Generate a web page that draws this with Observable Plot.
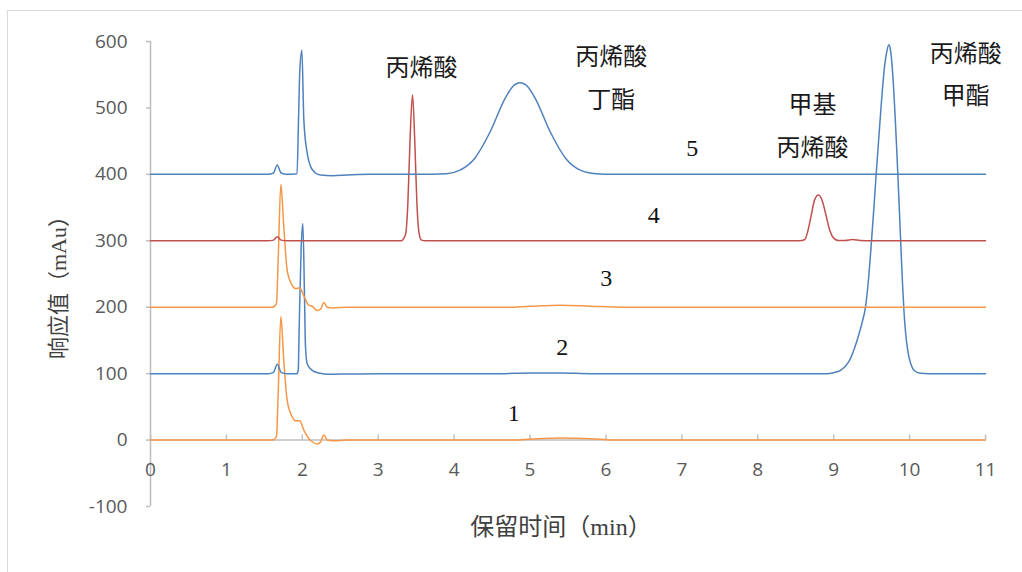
<!DOCTYPE html>
<html>
<head>
<meta charset="utf-8">
<script src="https://cdn.jsdelivr.net/npm/d3@7"></script>
<script src="https://cdn.jsdelivr.net/npm/@observablehq/plot@0.6"></script>
<style>
  html, body { margin: 0; padding: 0; background: #fff; overflow: hidden; }
  #frame { position: absolute; left: 7px; top: 10px; width: 1100px; height: 700px;
           border: 1px solid #d9d9d9; box-sizing: border-box; }
  #chart { position: absolute; left: 0; top: 0; }
</style>
</head>
<body>
<div id="frame"></div>
<div id="chart"></div>
<script>
// Axis ticks
const xTicks = [0, 1, 2, 3, 4, 5, 6, 7, 8, 9, 10, 11];
const yTicks = [-100, 0, 100, 200, 300, 400, 500, 600];
const xTitle = "保留时间（min）";
const yTitle = "响应值（mAu）";

// Chromatograms: [retention time (min), response (mAu)], each stacked 100 mAu apart
const trace1 = [[0,0],[1.60,0],[1.64,2],[1.66,6],[1.682,70],[1.717,186],[1.756,120],[1.80,60],
  [1.867,35],[1.91,29],[1.967,29],[2.02,15],[2.085,2.5],[2.13,-2.5],[2.196,-6],[2.24,-3],
  [2.283,7.5],[2.33,0],[2.40,-1],[2.60,0],[4.80,0],[5.10,2],[5.40,3],[5.80,2],[6.10,0],[11,0]];

const trace2 = [[0,100],[1.55,100],[1.62,102],[1.67,114],[1.72,102],[1.80,100],[1.93,100],
  [1.946,105],[1.959,171],[1.985,290],[2.007,326],[2.028,221],[2.042,140],[2.064,115],
  [2.13,105],[2.22,101],[2.35,99],[2.60,99.5],[3.00,100],[4.60,100],[5.00,101],[5.40,101],
  [5.80,100],[8.90,100],[9.00,101.5],[9.091,105],[9.20,118],[9.311,151],[9.37,175],[9.42,201],
  [9.465,250],[9.499,301],[9.53,350],[9.561,402],[9.59,448],[9.618,492],[9.645,532],
  [9.671,563],[9.70,585],[9.727,595],[9.747,588],[9.767,567],[9.787,535],[9.807,493],
  [9.827,446],[9.847,395],[9.867,342],[9.887,287],[9.907,235],[9.927,192],[9.947,162],
  [9.977,134],[10.017,114],[10.067,104],[10.147,100.5],[10.25,100],[11,100]];

const trace3 = [[0,200],[1.60,200],[1.64,202],[1.66,206],[1.682,271],[1.717,385],[1.756,321],
  [1.80,256],[1.867,233],[1.91,228],[1.967,229],[2.02,217],[2.085,203],[2.13,201.5],
  [2.196,195],[2.24,197],[2.283,207],[2.33,200],[2.40,199],[2.60,200],[4.70,200],[5.00,201.5],
  [5.40,203],[5.80,201.5],[6.20,200],[11,200]];

const trace4 = [[0,300],[1.55,300],[1.62,301],[1.67,306],[1.72,301],[1.80,300],[3.30,300],
  [3.36,310],[3.39,355],[3.42,455],[3.452,520],[3.48,455],[3.51,355],[3.54,310],[3.57,301],
  [3.62,300],[8.55,300],[8.62,302],[8.66,315],[8.70,336],[8.75,362],[8.80,369],[8.85,360],
  [8.90,338],[8.95,315],[9.00,304],[9.06,300.5],[9.15,300.5],[9.25,302],[9.35,300.5],
  [9.50,300],[11,300]];

const trace5 = [[0,400],[1.55,400],[1.62,402],[1.67,414],[1.72,402],[1.80,400],[1.93,401],
  [1.95,482],[1.967,557],[1.994,587],[2.02,482],[2.064,432],[2.108,412],[2.174,402],[2.24,399],
  [2.40,398],[2.60,399],[2.90,400],[3.50,400],[3.90,401],[4.07,406],[4.27,424],[4.47,463],
  [4.67,514],[4.77,532],[4.87,538],[4.97,532],[5.07,514],[5.27,463],[5.47,424],[5.67,406],
  [5.87,401],[6.10,400],[11,400]];

const traceNames = ["1", "2", "3", "4", "5"];

// Compound names and trace numbers, placed at (retention time, response)
const peakLabels = [
  {t: 3.57, v: 569, text: "丙烯酸"},
  {t: 6.07, v: 553, text: "丙烯酸\n丁酯"},
  {t: 8.72, v: 481, text: "甲基\n丙烯酸"},
  {t: 10.74, v: 558, text: "丙烯酸\n甲酯"}
];
const traceLabels = [
  {t: 4.786, v: 41, text: "1"},
  {t: 5.424, v: 140, text: "2"},
  {t: 6.003, v: 243, text: "3"},
  {t: 6.63, v: 339, text: "4"},
  {t: 7.136, v: 439, text: "5"}
];

const blue = "#4f81bd", orange = "#f79646", red = "#c0504d";
const colorOf = {"1": orange, "2": blue, "3": orange, "4": red, "5": blue};
const traces = [trace1, trace2, trace3, trace4, trace5];

const rows = traces.flatMap((tr, k) => tr.map(([t, v]) => ({trace: traceNames[k], t, v})));

const axisGray = "#bfbfbf";
const labelGray = "#595959";
const serifCJK = "'Liberation Serif', 'Noto Sans CJK SC', serif";

const chart = Plot.plot({
  width: 1022,
  height: 572,
  marginLeft: 150,
  marginRight: 37,
  marginTop: 41,
  marginBottom: 66,
  style: {fontFamily: "'Open Sans', sans-serif", background: "transparent"},
  x: {domain: [0, 11], axis: null},
  y: {domain: [-100, 600], axis: null},
  marks: [
    // y axis with outward ticks
    Plot.axisY(yTicks, {tickSize: 4, tickPadding: 19, fontSize: 19, stroke: axisGray,
      strokeWidth: 1.5, fill: labelGray, label: null, strokeOpacity: 1,
      tickFormat: d => String(d)}),
    Plot.ruleX([0], {y1: -100, y2: 600, stroke: axisGray, strokeWidth: 1.6}),
    // x axis along zero, ticks pointing up
    Plot.ruleY([0], {x1: 0, x2: 11, stroke: axisGray, strokeWidth: 1.6}),
    Plot.ruleX(xTicks, {x: d => d, y1: 0, y2: 0, insetBottom: 5, stroke: axisGray, strokeWidth: 1.5}),
    Plot.text(xTicks, {x: d => d, y: 0, dy: 30, text: d => String(d), fontSize: 19, fill: labelGray}),
    // chromatogram traces
    ...traceNames.map(name => Plot.line(rows.filter(r => r.trace === name), {
      x: "t", y: "v", stroke: colorOf[name], strokeWidth: 1.5, curve: "monotone-x"
    })),
    // annotations
    Plot.text(peakLabels, {x: "t", y: "v", text: "text", fontSize: 24, lineHeight: 1.78,
      fill: "#1a1a1a", fontFamily: serifCJK}),
    Plot.text(traceLabels, {x: "t", y: "v", text: "text", fontSize: 24,
      fill: "#111", fontFamily: serifCJK}),
    // axis titles
    Plot.text([xTitle], {frameAnchor: "bottom", text: d => d, dy: 21, dx: -7, fontSize: 24,
      textAnchor: "middle", lineAnchor: "middle", fill: "#404040", fontFamily: serifCJK}),
    Plot.text([yTitle], {frameAnchor: "left", text: d => d, dx: -92, dy: 8, rotate: -90,
      textAnchor: "middle", lineAnchor: "middle", fontSize: 22, fill: "#404040",
      fontFamily: serifCJK})
  ]
});
document.getElementById("chart").appendChild(chart);
</script>
</body>
</html>
